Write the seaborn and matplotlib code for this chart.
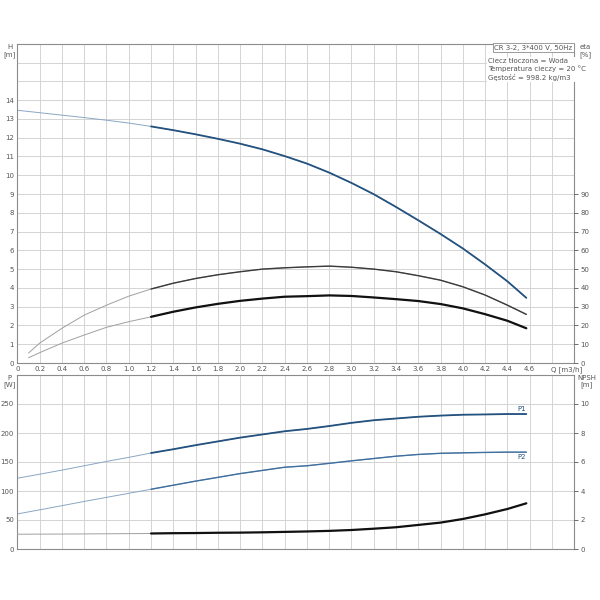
import matplotlib
matplotlib.use("Agg")
import matplotlib.pyplot as plt
import matplotlib.transforms as mtransforms
import seaborn as sns

# --- data ---
q_h = [0, 0.2, 0.4, 0.6, 0.8, 1.0, 1.2, 1.4, 1.6, 1.8, 2.0, 2.2, 2.4, 2.6, 2.8, 3.0, 3.2, 3.4, 3.6,
       3.8, 4.0, 4.2, 4.4, 4.57]
head = [13.46, 13.33, 13.2, 13.07, 12.93, 12.78, 12.6, 12.4, 12.18, 11.94, 11.68, 11.38, 11.02,
        10.62, 10.14, 9.59, 8.99, 8.31, 7.6, 6.87, 6.1, 5.25, 4.35, 3.47]

q_eta = [0.1, 0.2, 0.4, 0.6, 0.8, 1.0, 1.2, 1.4, 1.6, 1.8, 2.0, 2.2, 2.4, 2.6, 2.8, 3.0, 3.2, 3.4,
         3.6, 3.8, 4.0, 4.2, 4.4, 4.57]
eta_pump = [5.3, 10.6, 18.5, 25.5, 30.8, 35.6, 39.4, 42.5, 45.0, 47.0, 48.6, 50.0, 50.7, 51.2, 51.6,
            51.0, 50.0, 48.6, 46.5, 44.1, 40.6, 36.2, 30.8, 25.9]
eta_total = [2.8, 5.5, 10.6, 14.9, 19.0, 22.0, 24.6, 27.3, 29.6, 31.5, 33.1, 34.3, 35.3, 35.6, 36.0,
             35.7, 34.9, 34.0, 33.0, 31.4, 29.1, 26.0, 22.5, 18.5]

q_p = [0, 0.2, 0.4, 0.6, 0.8, 1.0, 1.2, 1.4, 1.6, 1.8, 2.0, 2.2, 2.4, 2.6, 2.8, 3.0, 3.2, 3.4, 3.6,
       3.8, 4.0, 4.2, 4.4, 4.57]
p1 = [122, 129, 136, 143.5, 151, 158, 165.5, 172, 179, 185.5, 192, 197.5, 203, 207, 212, 217.5, 222,
      225, 228, 230, 231.5, 232, 232.7, 232.7]
p2 = [60.5, 67.5, 74.7, 82, 89, 96, 103, 110, 117, 123.5, 130, 135.5, 141, 143.5, 147.7, 152, 156,
      160, 163, 165, 165.8, 166.5, 167, 167]

q_npsh = [0, 0.4, 0.8, 1.0, 1.2, 1.4, 1.6, 1.8, 2.0, 2.2, 2.4, 2.6, 2.8, 3.0, 3.2, 3.4, 3.6, 3.8,
          4.0, 4.2, 4.4, 4.57]
npsh = [1.02, 1.03, 1.05, 1.06, 1.07, 1.09, 1.1, 1.12, 1.13, 1.15, 1.18, 1.21, 1.25, 1.31, 1.4, 1.5,
        1.66, 1.82, 2.07, 2.39, 2.76, 3.15]

x_ticks = [round(0.2 * i, 1) for i in range(25)]
x_labels = ["0"] + [f"{v:.1f}" for v in x_ticks[1:-1]] + [""]

BLUE = "#24527f"
BLUE_THIN = "#8aa6c4"
BLACK = "#111111"
GRAY_THIN = "#a0a0a0"
GRID = "#d4d4d4"
SPINE = "#8c8c8c"
TXT = "#555555"
FS = 5
Q_SPLIT = 1.2

sns.set_style("white")
plt.rcParams["font.family"] = ["DejaVu Sans"]


def curve(ax, q, y, thick_color, thin_color, lw=1.3):
    # thin part over the whole range, heavier line over the operating range
    sns.lineplot(x=q, y=y, ax=ax, color=thin_color, linewidth=0.7, estimator=None, sort=False)
    qq = [a for a in q if a >= Q_SPLIT]
    yy = [b for a, b in zip(q, y) if a >= Q_SPLIT]
    sns.lineplot(x=qq, y=yy, ax=ax, color=thick_color, linewidth=lw, estimator=None, sort=False)


def style(ax):
    for s in ax.spines.values():
        s.set_color(SPINE)
        s.set_linewidth(0.8)
    ax.grid(True, color=GRID, linewidth=0.7)
    ax.set_axisbelow(True)
    ax.set_xlim(0, 5.0)
    ax.set_xticks(x_ticks)
    ax.tick_params(labelsize=FS, colors=TXT, length=1.5, width=0.6, pad=1)
    ax.tick_params(axis="y", length=0, pad=2.5)
    ax.set_xlabel("")
    ax.set_ylabel("")


fig = plt.figure(figsize=(6, 6), dpi=100)

# upper panel: head + efficiency
ax1 = fig.add_axes([0.029, 0.395, 0.928, 0.532])
style(ax1)
ax1.set_ylim(0, 17)
ax1.set_yticks(range(18))
ax1.set_yticklabels([str(v) if v <= 14 else "" for v in range(18)])
ax1.set_xticklabels(x_labels)
trans = mtransforms.blended_transform_factory(ax1.transData, ax1.transAxes)
ax1.text(4.79, -0.011, "Q [m3/h]", transform=trans, ha="left", va="top", fontsize=FS, color=TXT)
curve(ax1, q_h, head, BLUE, BLUE_THIN)

ax1r = ax1.twinx()
ax1r.set_ylim(0, 170)
ax1r.set_yticks(range(0, 100, 10))
ax1r.tick_params(labelsize=FS, colors=TXT, length=3, width=0.6, pad=1.5)
for s in ax1r.spines.values():
    s.set_visible(False)
curve(ax1r, q_eta, eta_pump, "#3a3a3a", GRAY_THIN, lw=1.0)
curve(ax1r, q_eta, eta_total, BLACK, GRAY_THIN, lw=1.6)
ax1r.set_ylabel("")

ax1.text(0.997, 0.997, "CR 3-2, 3*400 V, 50Hz", transform=ax1.transAxes, ha="right", va="top",
         fontsize=FS, color=TXT,
         bbox=dict(boxstyle="square,pad=0.25", facecolor="white", edgecolor=SPINE, linewidth=0.6))
ax1.text(0.846, 0.955, "Ciecz tłoczona = Woda\nTemperatura cieczy = 20 °C\nGęstość = 998.2 kg/m3",
         transform=ax1.transAxes, ha="left", va="top", fontsize=FS, color=TXT, linespacing=1.25,
         bbox=dict(facecolor="white", edgecolor="none", pad=1))

# lower panel: power + NPSH
ax2 = fig.add_axes([0.029, 0.085, 0.928, 0.29])
style(ax2)
ax2.set_ylim(0, 300)
ax2.set_yticks(range(0, 301, 50))
ax2.set_yticklabels([str(v) if v <= 250 else "" for v in range(0, 301, 50)])
ax2.set_xticklabels([])
ax2.tick_params(axis="x", length=0)
curve(ax2, q_p, p1, BLUE, BLUE_THIN)
curve(ax2, q_p, p2, "#3f6f9f", BLUE_THIN, lw=1.0)
ax2.text(q_p[-1], p1[-1] + 3, "P1", ha="right", va="bottom", fontsize=FS, color=BLUE)
ax2.text(q_p[-1], p2[-1] - 3, "P2", ha="right", va="top", fontsize=FS, color=BLUE)

ax2r = ax2.twinx()
ax2r.set_ylim(0, 12)
ax2r.set_yticks(range(0, 11, 2))
ax2r.tick_params(labelsize=FS, colors=TXT, length=3, width=0.6, pad=1.5)
for s in ax2r.spines.values():
    s.set_visible(False)
curve(ax2r, q_npsh, npsh, BLACK, GRAY_THIN, lw=1.6)
ax2r.set_ylabel("")

# unit labels
fig.text(0.016, 0.915, "H\n[m]", ha="center", va="center", fontsize=FS, color=TXT, linespacing=1.1)
fig.text(0.975, 0.915, "eta\n[%]", ha="center", va="center", fontsize=FS, color=TXT, linespacing=1.1)
fig.text(0.016, 0.364, "P\n[W]", ha="center", va="center", fontsize=FS, color=TXT, linespacing=1.1)
fig.text(0.978, 0.364, "NPSH\n[m]", ha="center", va="center", fontsize=FS, color=TXT, linespacing=1.1)

fig.savefig("out.png", dpi=100)
